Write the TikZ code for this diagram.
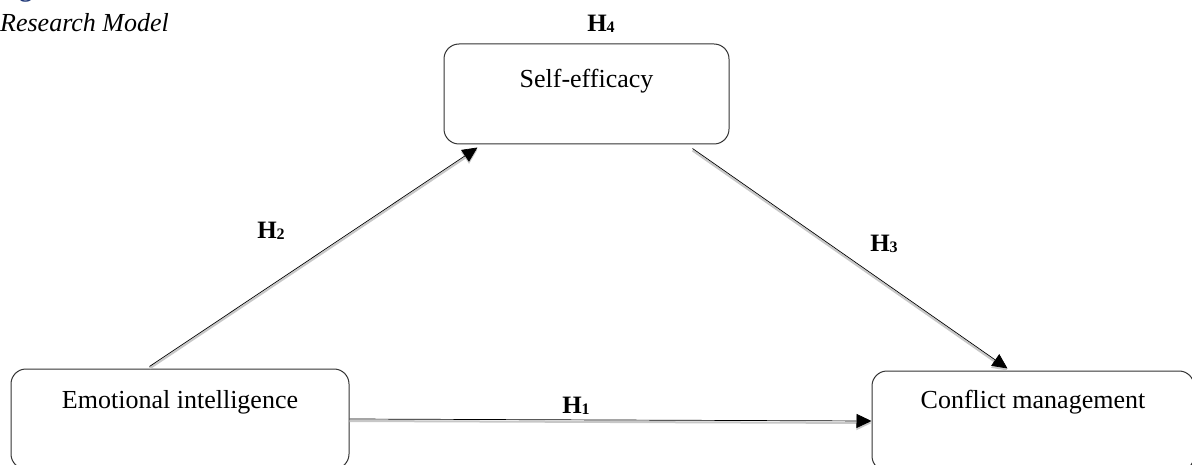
\documentclass[tikz,border=0pt]{standalone}
\usepackage{fontspec}
\setmainfont{Liberation Serif}
\usetikzlibrary{arrows.meta,calc}
\definecolor{figblue}{RGB}{31,56,120}
\begin{document}
\begin{tikzpicture}[x=1pt,y=-1pt,
  box/.style={draw=black!80, line width=1pt, rounded corners=15pt, inner xsep=0pt, inner ysep=0pt,
    font=\fontsize{26}{30}\selectfont, anchor=base},
  hyp/.style={font=\fontsize{25}{28}\selectfont\bfseries, inner sep=0pt, anchor=base},
  shade/.style={draw=black!22, line width=2pt, -{Triangle[length=15pt,width=14pt]}},
  link/.style={draw=black, line width=0.7pt, -{Triangle[length=15pt,width=14pt]}}]
\useasboundingbox (0,0) rectangle (1192,465);
\clip (0,0) rectangle (1192,465);

% caption
\node[anchor=base west, inner sep=0pt, font=\fontsize{26}{30}\selectfont\bfseries, text=figblue] (fig) at (-4,-3) {Figure 1};
\node[anchor=base west, inner sep=0pt, font=\fontsize{26}{30}\selectfont\itshape] (title) at (0,32) {Research Model};

% boxes
\node[box, minimum width=285pt, text height=44pt, text depth=56pt] (se) at (586.5,88) {Self-efficacy};
\node[box, minimum width=338pt, text height=39pt, text depth=61pt] (ei) at (180,408) {Emotional intelligence};
\node[box, minimum width=322pt, text height=37pt, text depth=63pt] (cm) at (1033,408) {Conflict management};

% hypothesis labels
\node[hyp] (h4) at (601,32) {H\raisebox{-1pt}{\fontsize{16}{16}\selectfont 4}};
\node[hyp] (h2l) at (271,239) {H\raisebox{-1pt}{\fontsize{16}{16}\selectfont 2}};
\node[hyp] (h3l) at (884,252) {H\raisebox{-1pt}{\fontsize{16}{16}\selectfont 3}};
\node[hyp] (h1l) at (576,413) {H\raisebox{-1pt}{\fontsize{16}{16}\selectfont 1}};

% connector end points
\coordinate (h2s) at ([xshift=139pt,yshift=2pt]ei.north west);
\coordinate (h2e) at ([xshift=34pt,yshift=-3pt]se.south west);
\coordinate (h3s) at ([xshift=249pt,yshift=-4pt]se.south west);
\coordinate (h3e) at ([xshift=136pt,yshift=2pt]cm.north west);

% shadows
\draw[shade] ([yshift=-2pt]h2s) -- ([yshift=-2pt]h2e);
\draw[shade] ([yshift=-2pt]h3s) -- ([yshift=-2pt]h3e);
\draw[shade] ([yshift=-2pt]ei.east) -- ([yshift=-2pt]cm.west);
% connectors
\draw[link] (h2s) -- (h2e);
\draw[link] (h3s) -- (h3e);
\draw[link] (ei.east) -- (cm.west);
\end{tikzpicture}
\end{document}
